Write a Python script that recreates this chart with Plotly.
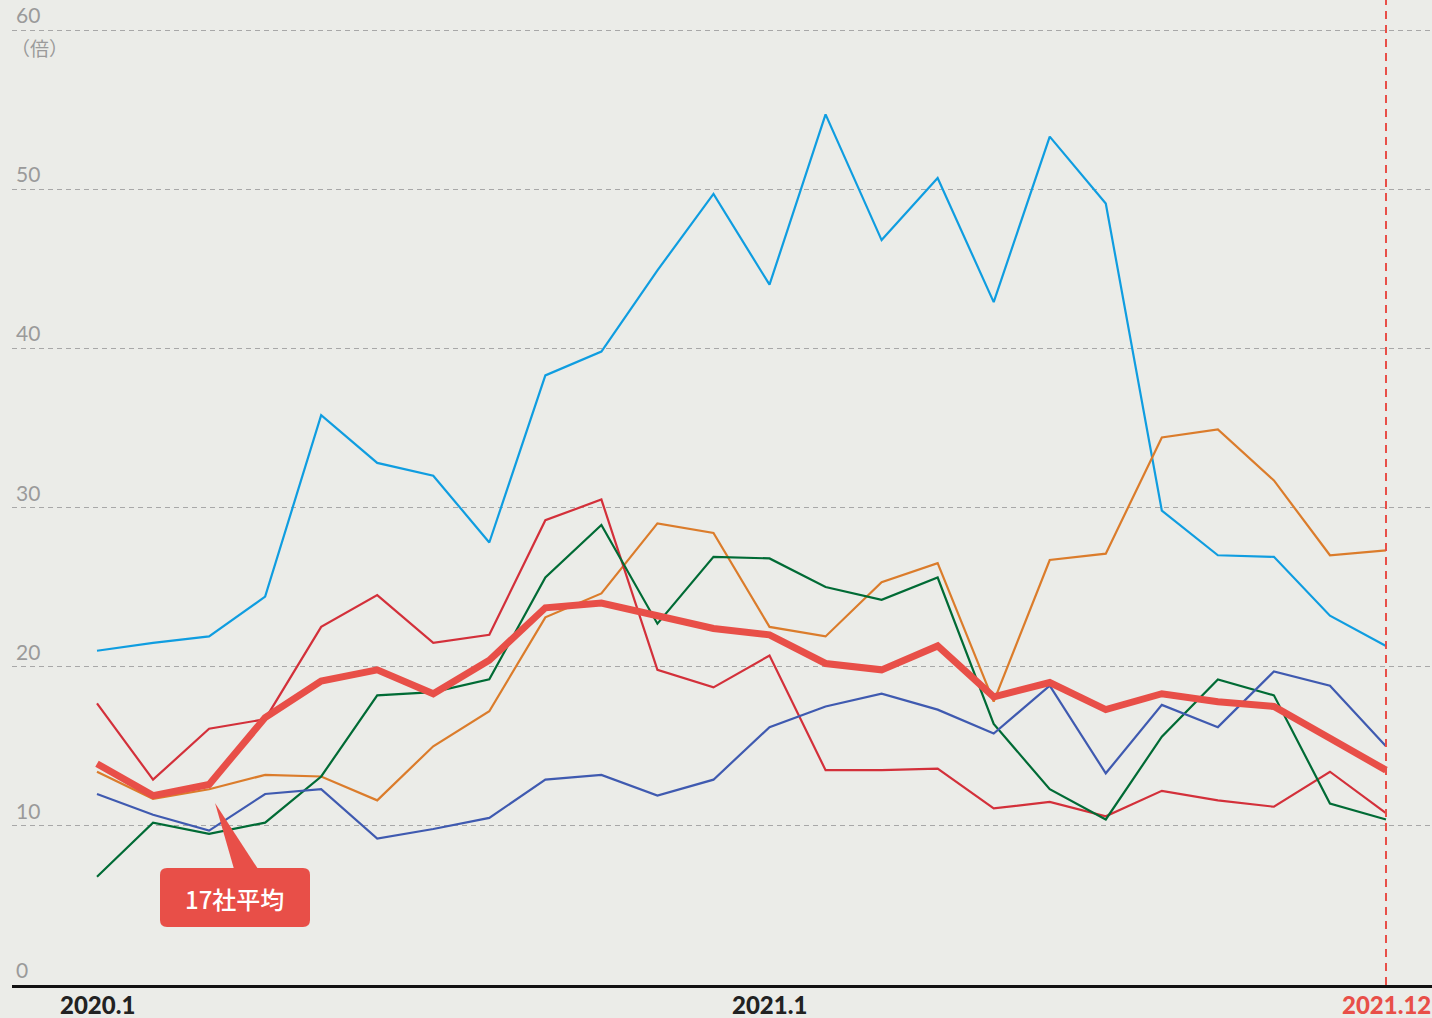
import plotly.graph_objects as go

months = [f"2020.{m}" for m in range(1, 13)] + [f"2021.{m}" for m in range(1, 13)]

cyan = [21.0, 21.5, 21.9, 24.4, 35.8, 32.8, 32.0, 27.8, 38.3, 39.8, 44.9, 49.7,
        44.0, 54.7, 46.8, 50.7, 42.9, 53.3, 49.1, 29.8, 27.0, 26.9, 23.2, 21.3]
orange = [13.4, 11.7, 12.3, 13.2, 13.1, 11.6, 15.0, 17.2, 23.1, 24.6, 29.0, 28.4,
          22.5, 21.9, 25.3, 26.5, 17.8, 26.7, 27.1, 34.4, 34.9, 31.7, 27.0, 27.3]
red = [17.7, 12.9, 16.1, 16.7, 22.5, 24.5, 21.5, 22.0, 29.2, 30.5, 19.8, 18.7,
       20.7, 13.5, 13.5, 13.6, 11.1, 11.5, 10.6, 12.2, 11.6, 11.2, 13.4, 10.8]
green = [6.8, 10.2, 9.5, 10.2, 13.1, 18.2, 18.4, 19.2, 25.6, 28.9, 22.7, 26.9,
         26.8, 25.0, 24.2, 25.6, 16.4, 12.3, 10.4, 15.6, 19.2, 18.2, 11.4, 10.4]
blue = [12.0, 10.7, 9.7, 12.0, 12.3, 9.2, 9.8, 10.5, 12.9, 13.2, 11.9, 12.9,
        16.2, 17.5, 18.3, 17.3, 15.8, 18.8, 13.3, 17.6, 16.2, 19.7, 18.8, 15.0]
average = [13.9, 11.9, 12.6, 16.8, 19.1, 19.8, 18.3, 20.4, 23.7, 24.0, 23.2, 22.4,
           22.0, 20.2, 19.8, 21.3, 18.1, 19.0, 17.3, 18.3, 17.8, 17.5, 15.5, 13.5]

y_ticks = [0, 10, 20, 30, 40, 50, 60]
x_labels = {"2020.1": "2020.1", "2021.1": "2021.1", "2021.12": "2021.12"}

BG = "#ebece8"
W, H = 1432, 1018
L, R, T, B = 12, 0, 0, 33
PW, PH = W - L - R, H - T - B

def px(x):
    return (x - L) / PW

def py(y):
    return (H - B - y) / PH

idx = list(range(len(months)))

fig = go.Figure()
series = [
    (cyan, "#0f9de0", 2.2),
    (orange, "#db7c2b", 2.2),
    (red, "#d3303a", 2.2),
    (green, "#006b35", 2.2),
    (blue, "#3f5ab0", 2.2),
    (average, "#e84f48", 7),
]
for vals, col, w in series:
    fig.add_trace(go.Scatter(x=idx, y=vals, mode="lines",
                             line=dict(color=col, width=w), hoverinfo="skip",
                             showlegend=False))

annotations = []
for v in y_ticks:
    annotations.append(dict(x=px(14), xref="paper", y=v, yref="y", text=str(v),
                            showarrow=False, xanchor="left", yanchor="bottom", yshift=1,
                            font=dict(family="Lato, Noto Sans", size=21, color="#9a9a9a")))
annotations.append(dict(x=px(9), xref="paper", y=py(47), yref="paper", text="（倍）",
                        showarrow=False, xanchor="left", yanchor="middle",
                        font=dict(family="Noto Sans CJK JP", size=19, color="#9a9a9a")))

for lab in x_labels:
    i = months.index(lab)
    col = "#e84f48" if lab == "2021.12" else "#222222"
    annotations.append(dict(x=i, xref="x", y=py(1004), yref="paper", text=x_labels[lab],
                            showarrow=False, xanchor="center", yanchor="middle",
                            font=dict(family="Lato", size=24, color=col, weight=900)))

annotations.append(dict(x=px(234), xref="paper", y=py(898), yref="paper", text="17社平均",
                        showarrow=False, xanchor="center", yanchor="middle",
                        font=dict(family="Noto Sans CJK JP", size=24, color="white", weight=500)))

# callout box
x0, x1, y0, y1, r = 160, 310, 868, 927, 7
path = (f"M {px(x0+r)},{py(y0)} L {px(x1-r)},{py(y0)} Q {px(x1)},{py(y0)} {px(x1)},{py(y0+r)} "
        f"L {px(x1)},{py(y1-r)} Q {px(x1)},{py(y1)} {px(x1-r)},{py(y1)} "
        f"L {px(x0+r)},{py(y1)} Q {px(x0)},{py(y1)} {px(x0)},{py(y1-r)} "
        f"L {px(x0)},{py(y0+r)} Q {px(x0)},{py(y0)} {px(x0+r)},{py(y0)} Z")
tri = f"M {px(215)},{py(803)} L {px(258)},{py(869)} L {px(234)},{py(869)} Z"
shapes = [
    dict(type="path", path=path, xref="paper", yref="paper", fillcolor="#e84f48",
         line=dict(width=0), layer="above"),
    dict(type="path", path=tri, xref="paper", yref="paper", fillcolor="#e84f48",
         line=dict(width=0), layer="above"),
    dict(type="line", x0=months.index("2021.12"), x1=months.index("2021.12"), xref="x",
         y0=0, y1=1, yref="paper", line=dict(color="#e84f48", width=2, dash="8px,6px"),
         layer="above"),
]

x_per = (1386 - 97) / 23
y_per = (985 - 30) / 60
fig.update_layout(
    width=W, height=H, paper_bgcolor=BG, plot_bgcolor=BG,
    margin=dict(l=L, r=R, t=T, b=B),
    xaxis=dict(range=[-(97 - L) / x_per, 23 + (W - R - 1386) / x_per], showgrid=False,
               zeroline=False, showticklabels=False, ticks="", showline=True,
               linecolor="#111111", linewidth=2.5, fixedrange=True),
    yaxis=dict(range=[0, 60 + 30 / y_per], tickvals=y_ticks[1:], showticklabels=False,
               showgrid=True, gridcolor="#a8a8a8", gridwidth=1, griddash="5px,4px",
               zeroline=False, ticks="", fixedrange=True),
    annotations=annotations, shapes=shapes,
)

fig.write_html("out.html", config={"displayModeBar": False},
               post_script="document.body.style.margin='0';document.body.style.overflow='hidden';document.body.style.background='" + BG + "';")
